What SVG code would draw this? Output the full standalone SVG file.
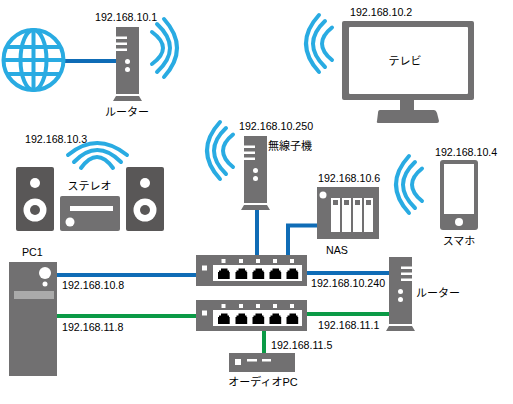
<svg xmlns="http://www.w3.org/2000/svg" width="513" height="404" viewBox="0 0 513 404">
<style>
text{font-family:"Liberation Sans","Noto Sans CJK JP",sans-serif;font-size:10.67px;fill:#000}
.j{font-size:11px}
.m{text-anchor:middle}
.g{fill:#717071}
.d{fill:#595757}
.w{fill:#fff}
.k{fill:#000}
.wave{fill:none;stroke:#29abe2;stroke-width:4;stroke-linecap:round}
.blue{fill:none;stroke:#0f6cb6;stroke-width:4}
.green{fill:none;stroke:#0b9a46;stroke-width:4}
</style>
<defs>
<g id="tower">
<rect x="0" y="0" width="23" height="67" class="g"/>
<path d="M-3 74L0 69H23L26 74Z" class="g"/>
<path d="M0 9.500H11V12H0ZM0 15.500H11V18H0ZM0 21.500H11V24H0Z" class="w"/>
<circle cx="11.500" cy="34.500" r="2.500" class="w"/>
<circle cx="11.500" cy="42.500" r="2.500" class="w"/>
</g>
<g id="switch">
<rect x="0" y="0" width="111" height="31" class="g"/>
<rect x="17" y="10" width="89" height="16" class="w"/>
<rect x="6" y="10.500" width="5" height="5" class="w"/>
<rect x="25.500" y="4" width="4" height="4" class="w"/><rect x="43" y="4" width="4" height="4" class="w"/><rect x="60" y="4" width="4" height="4" class="w"/><rect x="77" y="4" width="4" height="4" class="w"/><rect x="94" y="4" width="4" height="4" class="w"/>
<path id="port" d="M22 24V17H23V15.500H25V13.500H31.500V15.500H33V17H33.700V24Z" class="k"/>
<use href="#port" x="17.500"/><use href="#port" x="34.500"/><use href="#port" x="51.500"/><use href="#port" x="68.500"/>
</g>
<g id="waveL">
<path class="wave" d="M13 0Q-13 28.500 13 57"/>
<path class="wave" d="M19 6Q-5 28.500 19 52"/>
<path class="wave" d="M26 12.500Q6 28.500 26 45"/>
</g>
</defs>

<g id="connectors">
<path class="blue" d="M63 61H116"/>
<path class="blue" d="M57 275H196"/>
<path class="green" d="M57 316H196"/>
<path class="blue" d="M257 209V255"/>
<path class="blue" d="M288 255V225.500H317"/>
<path class="blue" d="M307 273H389"/>
<path class="green" d="M307 314H389"/>
<path class="green" d="M264 331V353"/>
</g>

<g id="internet">
<g fill="none" stroke="#29abe2" stroke-width="4">
<circle cx="33.500" cy="60" r="30"/>
<ellipse cx="33.500" cy="60" rx="13" ry="30"/>
<path d="M33.500 30V90M3.500 60H63.500M7 47H60M7 74H60"/>
</g>
</g>

<g id="router1">
<use href="#tower" x="116" y="27"/>
<path class="wave" d="M152 32Q174 48 152 64"/>
<path class="wave" d="M157 24Q183 48 157 72"/>
<path class="wave" d="M164 19Q190 48 164 77"/>
<text x="95" y="21">192.168.10.1</text>
<text x="127" y="116" class="m j">ルーター</text>
</g>

<g id="tv">
<use href="#waveL" x="306" y="15"/>
<rect x="342" y="21" width="132" height="79" rx="2" class="g"/>
<rect x="349" y="27" width="119" height="67" rx="1" class="w"/>
<rect x="400" y="100" width="14" height="10" class="g"/>
<path d="M380 110H434Q436 110 437 113L439 121Q439 123 437 123H379Q376 123 377 121L378 113Q378 110 380 110Z" class="g"/>
<text x="350" y="16">192.168.10.2</text>
<text x="405" y="65" class="m j">テレビ</text>
</g>

<g id="stereo">
<rect x="16" y="167" width="38" height="64" rx="2" class="d"/>
<circle cx="35" cy="183" r="5" class="w"/><circle cx="35" cy="210" r="11.500" class="w"/><circle cx="35" cy="210" r="5" class="d"/>
<rect x="126" y="167" width="38" height="64" rx="2" class="d"/>
<circle cx="145" cy="183" r="5" class="w"/><circle cx="145" cy="210" r="11.500" class="w"/><circle cx="145" cy="210" r="5" class="d"/>
<rect x="60" y="196" width="60" height="35" rx="2" class="g"/>
<rect x="70" y="206" width="43" height="5" class="w"/>
<circle cx="70" cy="222" r="4.500" class="w"/>
<path class="wave" d="M68 155Q97 131 127 155"/>
<path class="wave" d="M74 162Q97 138 121 162"/>
<path class="wave" d="M81 168Q97 146 113 168"/>
<text x="25" y="143">192.168.10.3</text>
<text x="89.500" y="190" class="m j">ステレオ</text>
</g>

<g id="ap">
<use href="#waveL" x="207" y="122"/>
<use href="#tower" x="244" y="136"/>
<text x="239" y="130">192.168.10.250</text>
<text x="268" y="150" class="j">無線子機</text>
</g>

<g id="nas">
<rect x="317" y="187" width="62" height="52" class="g"/>
<circle cx="323" cy="195" r="3.500" class="w"/>
<rect x="331" y="198" width="9" height="34" class="w"/><rect x="342" y="198" width="9" height="34" class="w"/><rect x="353" y="198" width="9" height="34" class="w"/><rect x="364" y="198" width="9" height="34" class="w"/>
<rect x="333" y="200" width="5" height="5" class="g"/><rect x="344" y="200" width="5" height="5" class="g"/><rect x="355" y="200" width="5" height="5" class="g"/><rect x="366" y="200" width="5" height="5" class="g"/>
<text x="318" y="182">192.168.10.6</text>
<text x="337" y="254" class="m">NAS</text>
</g>

<g id="phone">
<use href="#waveL" x="396" y="156"/>
<rect x="440" y="160" width="38" height="70" rx="3" class="g"/>
<rect x="444" y="164" width="30" height="50" class="w"/>
<circle cx="459" cy="222" r="4" class="w"/>
<text x="435" y="156">192.168.10.4</text>
<text x="459" y="245" class="m j">スマホ</text>
</g>

<g id="pc1">
<rect x="9" y="262" width="48" height="114" class="g"/>
<circle cx="45" cy="273" r="6" class="w"/>
<circle cx="45" cy="284" r="2.500" class="w"/>
<rect x="14" y="291" width="40" height="8" fill="#aaa"/>
<text x="22" y="256">PC1</text>
<text x="62" y="289">192.168.10.8</text>
<text x="62" y="331">192.168.11.8</text>
</g>

<g id="switch1"><use href="#switch" x="196" y="255"/></g>
<g id="switch2"><use href="#switch" x="196" y="300"/></g>

<g id="router2">
<use href="#tower" transform="translate(412,257) scale(-1,1)"/>
<text x="311" y="287">192.168.10.240</text>
<text x="318" y="329">192.168.11.1</text>
<text x="416" y="297" class="j">ルーター</text>
</g>

<g id="audiopc">
<rect x="229" y="353" width="66" height="19" class="g"/>
<rect x="235" y="359" width="6" height="6" class="w"/>
<rect x="247" y="359" width="10" height="2.500" class="w"/>
<rect x="262" y="359" width="9" height="2.500" class="w"/>
<text x="271" y="349">192.168.11.5</text>
<text x="263" y="386" class="m j">オーディオPC</text>
</g>
</svg>
